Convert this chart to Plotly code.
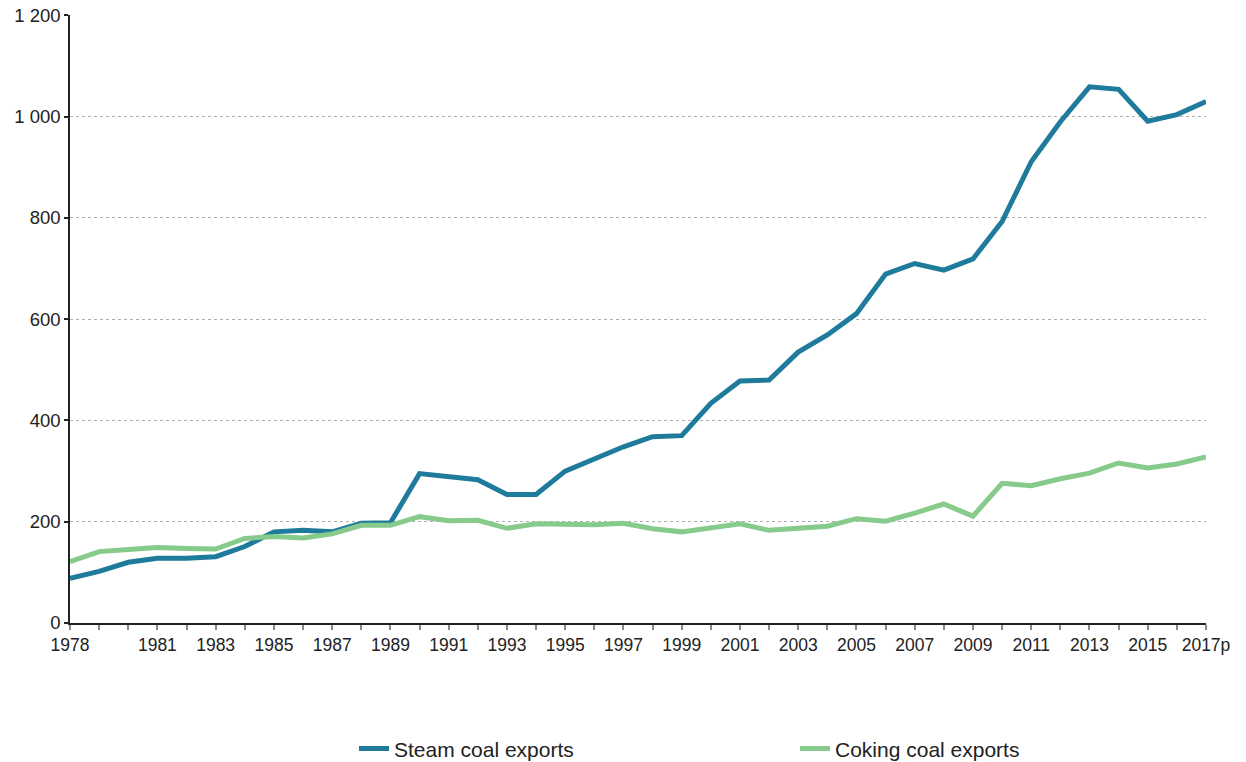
import plotly.graph_objects as go

years = list(range(1978, 2018))
year_labels = ["1978", "", "", "1981", "", "1983", "", "1985", "", "1987", "", "1989", "",
               "1991", "", "1993", "", "1995", "", "1997", "", "1999", "", "2001", "",
               "2003", "", "2005", "", "2007", "", "2009", "", "2011", "", "2013", "",
               "2015", "", "2017p"]

steam_coal = [88, 102, 120, 128, 128, 131, 151, 180, 183, 180, 197, 198, 295, 290, 283,
              254, 254, 300, 323, 348, 368, 370, 434, 478, 480, 535, 569, 611, 689, 710,
              697, 719, 793, 911, 990, 1059, 1054, 991, 1004, 1030]

coking_coal = [121, 141, 145, 149, 147, 146, 167, 171, 168, 176, 193, 193, 210, 202, 203,
               187, 196, 196, 194, 197, 186, 180, 188, 196, 183, 187, 191, 206, 201, 217,
               235, 211, 276, 271, 285, 296, 316, 306, 314, 328]

y_ticks = [0, 200, 400, 600, 800, 1000, 1200]

fig = go.Figure()
fig.add_trace(go.Scatter(x=years, y=steam_coal, mode="lines", name="Steam coal exports",
                         line=dict(color="#1f7b9b", width=5), cliponaxis=False))
fig.add_trace(go.Scatter(x=years, y=coking_coal, mode="lines", name="Coking coal exports",
                         line=dict(color="#86cb8b", width=5), cliponaxis=False))

fig.update_layout(
    width=1246, height=762,
    margin=dict(l=70, r=40, t=15, b=139, autoexpand=False),
    paper_bgcolor="white", plot_bgcolor="white",
    separators=". ",
    font=dict(family="Liberation Sans, Arial, sans-serif", size=18, color="#222222"),
    showlegend=True,
    legend=dict(orientation="h", x=0.25, xanchor="left", y=-0.207, yanchor="middle",
                font=dict(size=21, color="#222222"), entrywidth=396, entrywidthmode="pixels",
                traceorder="normal"),
)
fig.update_xaxes(
    range=[1978, 2017], tickmode="array", tickvals=years, ticktext=year_labels,
    showgrid=False, showline=True, linecolor="#222222", linewidth=1.5,
    ticks="outside", ticklen=5, tickcolor="#888888", tickwidth=1.5,
    tickfont=dict(size=17.5), zeroline=False,
)
fig.update_yaxes(
    range=[0, 1200.8], tickmode="array", tickvals=y_ticks, tickformat=",d",
    showgrid=True, gridcolor="#b0b0b0", griddash="dot", gridwidth=1,
    showline=True, linecolor="#222222", linewidth=1.5,
    ticks="outside", ticklen=4, tickcolor="#222222", tickwidth=1.5,
    tickfont=dict(size=18.5), zeroline=False, ticklabeloverflow="allow",
)

fig.write_html("out.html", config={"displayModeBar": False},
               post_script="document.body.style.margin='0';")
